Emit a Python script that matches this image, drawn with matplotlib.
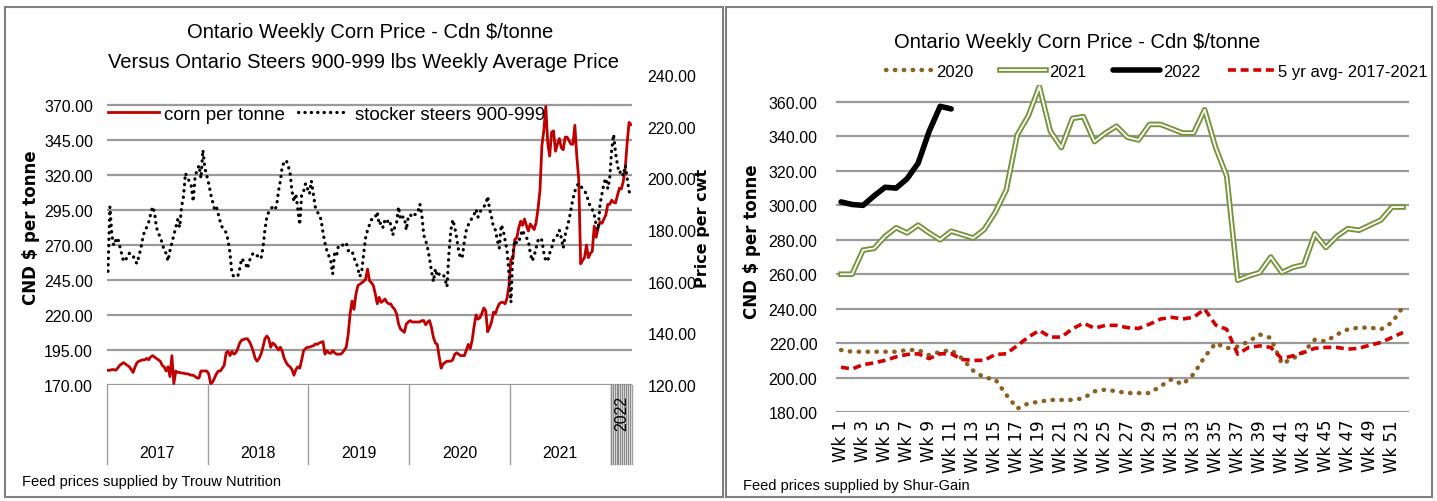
import matplotlib
matplotlib.use('Agg')
import matplotlib.pyplot as plt
import matplotlib.patheffects as pe
from matplotlib import font_manager
from matplotlib.patches import Rectangle
import matplotlib.transforms as mtransforms
import numpy as np

# fonts
names = {f.name for f in font_manager.fontManager.ttflist}
narrow = 'Liberation Sans Narrow' if 'Liberation Sans Narrow' in names else 'Liberation Sans'

# left chart: weekly corn ($/tonne) 2017-2019, the rest comes from the right chart
corn_2017 = [180.5, 180.5, 181, 181, 180.5, 182, 184, 185, 186, 185, 184, 183, 181, 179, 183, 186,
             187, 187.5, 188, 188, 189, 188, 190, 191, 190, 189, 188, 187, 184, 183, 180, 183,
             176, 191, 171, 180, 179, 179, 178.5, 178.5, 178, 178, 177.5, 177, 177, 176, 175, 175,
             180, 180, 180, 180]
corn_2018 = [178, 171, 172, 175, 178, 180, 180, 182, 184, 193, 194, 191, 194, 192, 193, 196,
             200, 202, 202.5, 203, 203, 201, 198, 194, 189, 187, 189, 192, 197, 203, 205, 203,
             197, 200, 199, 197, 195, 197, 194, 189, 186, 184, 183, 181, 177, 181, 183, 182,
             188, 194.5, 196, 197]
corn_2019 = [197, 197.6, 198, 199.3, 199, 200, 200.5, 201, 192, 194.5, 193, 192.6, 194.5, 193, 192, 192,
             192, 193, 195, 197, 206, 221, 230, 224, 235, 241, 242, 243, 244, 245.7, 252.8, 244.5,
             243, 241, 235, 228, 232.6, 229, 230, 231.4, 229, 228, 227.9, 225.5, 224, 220.7, 213.6, 210,
             208.8, 207.6, 213.6, 215]

# stocker steers 900-999 ($/cwt), weekly
steers_2017 = [164, 189, 178, 174, 176, 177, 174, 171, 168, 168, 170, 171, 170, 170, 168, 167,
               170, 173, 177, 180, 181, 183, 186, 189, 187, 181, 179, 177, 175, 172, 171, 168,
               172, 175, 178, 181, 184, 181, 189, 193, 202, 200, 199, 197, 191, 201, 203, 205,
               200, 211, 204, 201]
steers_2018 = [198, 194, 191, 188, 189, 186, 183, 181, 180, 179, 176, 171, 163, 162, 162, 162,
               165, 169, 168, 167, 165, 168, 170, 171, 171, 170, 170, 169, 173, 180, 185, 187,
               188, 189, 188, 189, 195, 199, 205, 206, 207, 205, 202, 195, 191, 194, 188, 182,
               194, 195, 198, 196]
steers_2019 = [194, 199, 194, 189, 187, 186, 184, 179, 175, 172, 170, 168, 163, 171, 170, 174,
               174, 174, 175, 175, 172, 172, 172, 169, 168, 165, 162, 164, 171, 177, 180, 182,
               184, 184, 185, 187, 182, 183, 181, 184, 183, 184, 182, 178, 181, 183, 189, 184,
               185, 185, 180, 185]
steers_2020 = [186, 185, 186, 186, 187, 190, 186, 178, 176, 173, 169, 164, 160, 165, 162, 163,
               163, 163, 161, 158, 171, 180, 184, 181, 177, 172, 169, 170, 176, 180, 182, 183,
               185, 186, 188, 185, 187, 188, 189, 190, 193, 188, 185, 181, 180, 176, 173, 182,
               180, 176, 172, 163]
steers_2021 = [152, 171, 176, 175, 175, 178, 180, 178, 177, 176, 171, 168, 170, 173, 176, 177,
               176, 171, 168, 168, 171, 173, 176, 177, 178, 180, 177, 173, 178, 181, 184, 188,
               192, 195, 197, 198, 197, 196, 195, 194, 191, 189, 188, 186, 182, 180, 190, 194,
               198, 200, 196, 200]
steers_2022 = [211, 217, 210, 205, 202, 203, 201, 205, 200, 195, 193]

years = ['2017', '2018', '2019', '2020', '2021', '2022']

# right chart: weekly corn by year
wk_2020 = [216, 215, 215, 215, 215, 215, 216, 216, 213, 215, 216, 211, 204, 200, 199, 190,
           182, 185, 186, 187, 187, 187, 188, 192, 193, 192, 191, 191, 191, 195, 199, 196,
           202, 212, 220, 217, 218, 221, 225, 223, 208, 211, 215, 222, 221, 225, 228, 229,
           229, 228, 232, 241]
wk_2021 = [260, 260, 274, 275, 282, 287, 284, 288.5, 284, 280, 285, 283, 281, 286, 296, 309,
           341, 352, 369, 343, 333.5, 350.5, 351.5, 337, 342, 346, 339.5, 338, 347, 347, 344.5, 342,
           342, 355.5, 333.5, 317, 256.5, 259, 261, 270, 261, 264, 265.5, 283.5, 275.5, 282, 286.5, 285.5,
           288.5, 291.5, 299, 299]
wk_2022 = [302, 300.5, 300, 305.5, 310.5, 310, 315.5, 324.5, 343, 357.5, 356]
avg_5yr = [206, 205, 207.5, 208.5, 210, 212, 213.4, 213.8, 211, 213.8, 213.8, 210.5, 210, 210, 213.4, 213.8,
           218.6, 223.5, 227.4, 223.5, 223.5, 228.3, 231.6, 228.7, 230.3, 230.3, 229, 228.5, 231, 234, 235, 234,
           235, 239.8, 230.5, 228, 213.6, 217.5, 218.4, 217.5, 211, 212.6, 214.6, 217, 217.5, 217.5, 216.5, 217,
           218.8, 220.4, 223.3, 226.2]

corn_left = corn_2017 + corn_2018 + corn_2019 + wk_2020 + wk_2021 + wk_2022
steers = steers_2017 + steers_2018 + steers_2019 + steers_2020 + steers_2021 + steers_2022
year_len = [len(corn_2017), len(corn_2018), len(corn_2019), len(wk_2020), len(wk_2021), len(wk_2022)]

W, H = 1437, 502
fig = plt.figure(figsize=(W / 100, H / 100), dpi=100)
grid_col = '#9A9A9A'

# ---------------- left chart ----------------
ax1 = fig.add_axes([107 / W, (H - 386) / H, 525 / W, 310 / H])
x_left = np.arange(len(corn_left))
ax1.plot(x_left, corn_left, color='#C00000', lw=2.0, label='corn per tonne', zorder=3)
ax1.set_xlim(-0.5, len(corn_left) - 0.5)
ax1.set_ylim(170, 391.4)
ax1.set_yticks(np.arange(170, 371, 25))
ax1.set_yticklabels(['%.2f' % v for v in np.arange(170, 371, 25)], family=narrow, fontsize=11.5)
ax1.set_xticks([])
ax1.tick_params(axis='y', length=0, pad=10)
ax1.grid(axis='y', color=grid_col, lw=1.6)
ax1.set_axisbelow(True)
for s in ax1.spines.values():
    s.set_visible(False)

ax2 = ax1.twinx()
ax2.plot(x_left[:len(steers)], steers, color='black', lw=2.3, ls=(0, (0.1, 1.9)),
         dash_capstyle='round', label='stocker steers 900-999')
ax2.set_ylim(120, 240)
ax2.set_yticks(np.arange(120, 241, 20))
ax2.set_yticklabels(['%.2f' % v for v in np.arange(120, 241, 20)], family=narrow, fontsize=11.5)
ax2.tick_params(axis='y', length=0, pad=11)
for s in ax2.spines.values():
    s.set_visible(False)

h1, l1 = ax1.get_legend_handles_labels()
h2, l2 = ax2.get_legend_handles_labels()
ax2.legend(h1 + h2, l1 + l2, loc='center left', bbox_to_anchor=(-0.03, 0.874), ncol=2,
           frameon=False, handlelength=2.7, columnspacing=0.7, handletextpad=0.3,
           prop={'family': narrow, 'size': 13.5})

# category axis with year groups
trans = mtransforms.blended_transform_factory(ax1.transData, ax1.transAxes)
edges = np.concatenate([[0], np.cumsum(year_len)]) - 0.5
for b in edges:
    ax1.plot([b, b], [0, -0.255], transform=trans, color='#A0A0A0', lw=1.0, clip_on=False)
for k in range(int(edges[-2]) + 1, int(edges[-1]) + 1):
    ax1.plot([k - 0.5, k - 0.5], [0, -0.255], transform=trans, color='#8A8A8A', lw=1.0, clip_on=False)
for i, yr in enumerate(years[:-1]):
    ax1.text((edges[i] + edges[i + 1]) / 2, -0.217, yr, transform=trans, ha='center', va='center',
             family=narrow, fontsize=11.5)
ax1.text((edges[-2] + edges[-1]) / 2, -0.087, years[-1], transform=trans, ha='center', va='center',
         rotation=90, family=narrow, fontsize=11.5)

fig.text(370 / W, 1 - 33 / H, 'Ontario Weekly Corn Price - Cdn $/tonne', ha='center', va='center',
         family=narrow, fontsize=14.5)
fig.text(364 / W, 1 - 63 / H, 'Versus Ontario Steers 900-999 lbs Weekly Average Price', ha='center',
         va='center', family=narrow, fontsize=14.5)
fig.text(31 / W, 1 - 228 / H, 'CND $ per tonne', rotation=90, ha='center', va='center',
         family='DejaVu Sans', fontweight='bold', fontsize=12)
fig.text(703 / W, 1 - 228 / H, 'Price per cwt', rotation=90, ha='center', va='center',
         family='DejaVu Sans', fontweight='bold', fontsize=11.5)
fig.text(22 / W, 1 - 482 / H, 'Feed prices supplied by Trouw Nutrition', va='center',
         family=narrow, fontsize=10.5)

# ---------------- right chart ----------------
ax3 = fig.add_axes([835.5 / W, (H - 413) / H, 573 / W, 327.2 / H])
x52 = np.arange(len(wk_2021))
ax3.plot(x52, wk_2020, color='#8C6023', lw=3.2, ls=(0, (0.1, 1.9)), dash_capstyle='round', label='2020')
ax3.plot(x52, wk_2021, color='white', lw=1.3, label='2021',
         path_effects=[pe.Stroke(linewidth=4.0, foreground='#77933C'), pe.Normal()])
ax3.plot(np.arange(len(wk_2022)), wk_2022, color='black', lw=4.0, solid_capstyle='round', label='2022')
ax3.plot(x52, avg_5yr, color='#D40000', lw=2.6, ls=(0, (2.2, 1.3)), label='5 yr avg- 2017-2021')
ax3.set_xlim(-0.5, len(x52) - 0.5)
ax3.set_ylim(180, 370)
ax3.set_yticks(np.arange(180, 361, 20))
ax3.set_yticklabels(['%.2f' % v for v in np.arange(180, 361, 20)], family=narrow, fontsize=11.5)
ax3.set_xticks(x52[::2])
ax3.set_xticklabels(['Wk %d' % (i + 1) for i in x52[::2]], rotation=90, family='DejaVu Sans', fontsize=12)
ax3.tick_params(axis='y', length=0, pad=13)
ax3.tick_params(axis='x', length=0, pad=5)
ax3.grid(axis='y', color=grid_col, lw=1.6)
ax3.set_axisbelow(True)
for s in ax3.spines.values():
    s.set_visible(False)
ax3.legend(loc='center', bbox_to_anchor=(0.56, 1.042), ncol=4, frameon=False, handlelength=2.8,
           columnspacing=1.6, handletextpad=0.2, prop={'family': narrow, 'size': 12})

fig.text(1077 / W, 1 - 43 / H, 'Ontario Weekly Corn Price - Cdn $/tonne', ha='center', va='center',
         family=narrow, fontsize=14.5)
fig.text(752 / W, 1 - 242 / H, 'CND $ per tonne', rotation=90, ha='center', va='center',
         family='DejaVu Sans', fontweight='bold', fontsize=12)
fig.text(743 / W, 1 - 486 / H, 'Feed prices supplied by Shur-Gain', va='center',
         family=narrow, fontsize=10.5)

# panel borders
fig.add_artist(Rectangle((5 / W, 4 / H), 718 / W, 490 / H, transform=fig.transFigure,
                         fill=False, ec='#808080', lw=1.5))
fig.add_artist(Rectangle((726 / W, 4 / H), 706 / W, 490 / H, transform=fig.transFigure,
                         fill=False, ec='#808080', lw=1.5))

fig.savefig('out.png', dpi=100)
